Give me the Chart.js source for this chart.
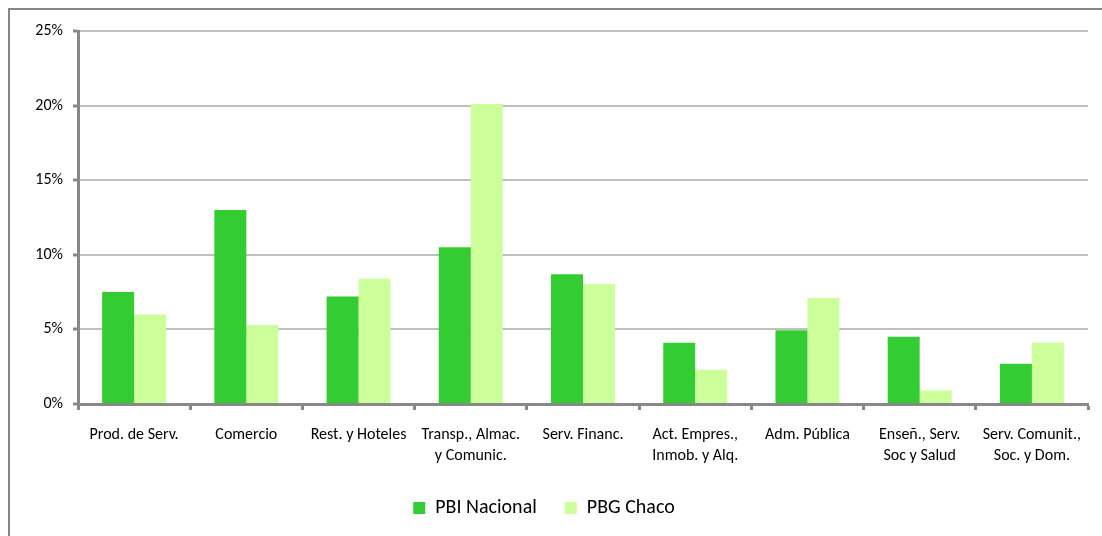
<!DOCTYPE html>
<html>
<head>
<meta charset="utf-8">
<script src="https://cdn.jsdelivr.net/npm/chart.js@4.4.1/dist/chart.umd.min.js"></script>
<style>
    body { margin: 0; background: #ffffff; }
    #frame { position: absolute; left: 8px; top: 8px; width: 1200px; height: 700px; border: 2px solid #878787; }
    #wrap { position: absolute; left: 0; top: 0; width: 1102px; height: 536px; }
</style>
</head>
<body>
<div id="frame"></div>
<div id="wrap"><canvas id="ctx_sectores"></canvas></div>
<script>
var categories = [
    'Prod. de Serv.',
    'Comercio',
    'Rest. y Hoteles',
    ['Transp., Almac.', 'y Comunic.'],
    'Serv. Financ.',
    ['Act. Empres.,', 'Inmob. y Alq.'],
    'Adm. Pública',
    ['Enseñ., Serv.', 'Soc y Salud'],
    ['Serv. Comunit.,', 'Soc. y Dom.']
];
var pbi_nacional = [7.5, 13.0, 7.2, 10.5, 8.7, 4.1, 4.95, 4.5, 2.7];
var pbg_chaco = [6.0, 5.3, 8.4, 20.1, 8.05, 2.3, 7.1, 0.9, 4.1];
var y_ticks = [0, 5, 10, 15, 20, 25];

var font_family = "Carlito, Lato, 'Open Sans', sans-serif";

var ctx_sectores = document.getElementById('ctx_sectores').getContext('2d');
var chart_sectores = new Chart(ctx_sectores, {
    type: 'bar',
    data: {
        labels: categories,
        datasets: [{
            label: 'PBI Nacional',
            data: pbi_nacional,
            backgroundColor: '#33CC33',
            borderWidth: 0
        }, {
            label: 'PBG Chaco',
            data: pbg_chaco,
            backgroundColor: '#CCFF99',
            borderWidth: 0
        }]
    },
    options: {
        responsive: true,
        maintainAspectRatio: false,
        animation: false,
        datasets: {
            bar: {
                categoryPercentage: 0.57,
                barPercentage: 1.0
            }
        },
        layout: {
            padding: { left: 0, top: 31, right: 14, bottom: 8 }
        },
        plugins: {
            tooltip: { enabled: false },
            legend: {
                position: 'bottom',
                labels: {
                    boxWidth: 12,
                    boxHeight: 12,
                    padding: 28,
                    color: '#000000',
                    font: { family: font_family, size: 20 }
                }
            }
        },
        scales: {
            x: {
                grid: {
                    display: true,
                    offset: true,
                    drawOnChartArea: false,
                    drawTicks: true,
                    tickLength: 6,
                    tickColor: '#888888',
                    tickWidth: 3
                },
                border: { display: true, color: '#888888', width: 3 },
                ticks: {
                    color: '#000000',
                    padding: 14,
                    maxRotation: 0,
                    autoSkip: false,
                    font: { family: font_family, size: 16, lineHeight: 1.35 }
                },
                afterFit: function (scale) {
                    scale.height = 66;
                }
            },
            y: {
                min: 0,
                max: 25,
                afterBuildTicks: function (scale) {
                    scale.ticks = y_ticks.map(function (v) { return { value: v }; });
                },
                grid: {
                    color: '#C0C0C0',
                    lineWidth: 2,
                    drawTicks: true,
                    tickLength: 5,
                    tickColor: '#888888',
                    tickWidth: 3
                },
                border: { display: true, color: '#888888', width: 3 },
                ticks: {
                    color: '#000000',
                    padding: 10,
                    font: { family: font_family, size: 16 },
                    callback: function (value) { return value + '%'; }
                },
                afterFit: function (scale) {
                    scale.width = 78;
                }
            }
        }
    }
});
</script>
</body>
</html>
